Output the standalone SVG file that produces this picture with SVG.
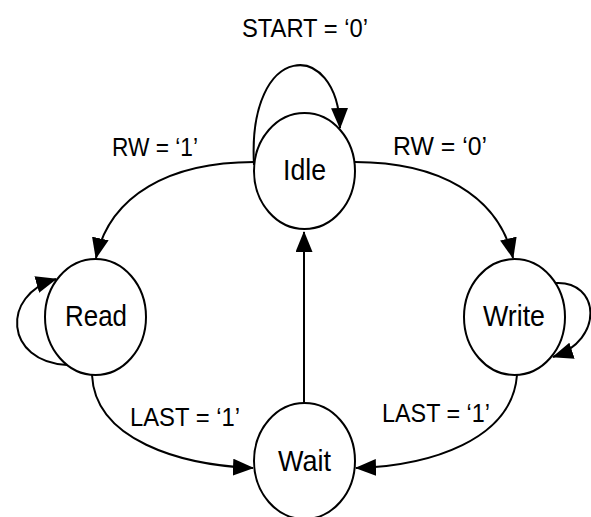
<svg xmlns="http://www.w3.org/2000/svg" width="591" height="517" viewBox="0 0 591 517">
  <style>
    .state { fill: #ffffff; stroke: #000000; stroke-width: 2; }
    .name { font-family: "Liberation Sans", Arial, sans-serif; font-size: 29px; fill: #000000; text-anchor: middle; }
    .cond { font-family: "Liberation Sans", Arial, sans-serif; font-size: 26px; fill: #000000; text-anchor: middle; }
    .edge { fill: none; stroke: #000000; stroke-width: 2; marker-end: url(#arrow); }
  </style>
  <defs>
    <marker id="arrow" markerUnits="userSpaceOnUse" markerWidth="21" markerHeight="17" refX="20" refY="8.5" orient="auto">
      <path d="M0,0 L21,8.5 L0,17 z" fill="#000000"/>
    </marker>
  </defs>
  <rect width="591" height="517" fill="#ffffff"/>

  <!-- transitions -->
  <g id="connectors">
    <path class="edge" d="M254,165 C247,40 338,38 340,128"/>
    <path class="edge" d="M254,162 C170,162 110,195 96,258"/>
    <path class="edge" d="M355,162 C438,162 498,195 513,258"/>
    <path class="edge" d="M67,365 C5,362 0,295 56,279"/>
    <path class="edge" d="M555,283 C600,280 605,340 553,357"/>
    <path class="edge" d="M92,375 C95,440 180,465 253,468"/>
    <path class="edge" d="M517,375 C512,440 430,466 356,468"/>
    <path class="edge" d="M304,403 L304,232"/>
  </g>

  <!-- transition conditions -->
  <g id="labels">
    <text class="cond" x="305" y="37" textLength="126" lengthAdjust="spacingAndGlyphs">START = ‘0’</text>
    <text class="cond" x="155" y="156" textLength="86" lengthAdjust="spacingAndGlyphs">RW = ‘1’</text>
    <text class="cond" x="440" y="155" textLength="94" lengthAdjust="spacingAndGlyphs">RW = ‘0’</text>
    <text class="cond" x="185" y="426" textLength="110" lengthAdjust="spacingAndGlyphs">LAST = ‘1’</text>
    <text class="cond" x="436" y="422" textLength="108" lengthAdjust="spacingAndGlyphs">LAST = ‘1’</text>
  </g>

  <!-- states -->
  <g id="idle">
    <ellipse class="state" cx="304.5" cy="171" rx="50.5" ry="58"/>
    <text class="name" x="304.5" y="180" textLength="43" lengthAdjust="spacingAndGlyphs">Idle</text>
  </g>
  <g id="read">
    <ellipse class="state" cx="95.5" cy="317" rx="50.5" ry="58"/>
    <text class="name" x="96" y="326" textLength="62" lengthAdjust="spacingAndGlyphs">Read</text>
  </g>
  <g id="write">
    <ellipse class="state" cx="514.5" cy="317" rx="50.5" ry="58"/>
    <text class="name" x="514" y="326" textLength="62" lengthAdjust="spacingAndGlyphs">Write</text>
  </g>
  <g id="wait">
    <ellipse class="state" cx="304.5" cy="461" rx="50.5" ry="58"/>
    <text class="name" x="304.5" y="471" textLength="53" lengthAdjust="spacingAndGlyphs">Wait</text>
  </g>
</svg>
